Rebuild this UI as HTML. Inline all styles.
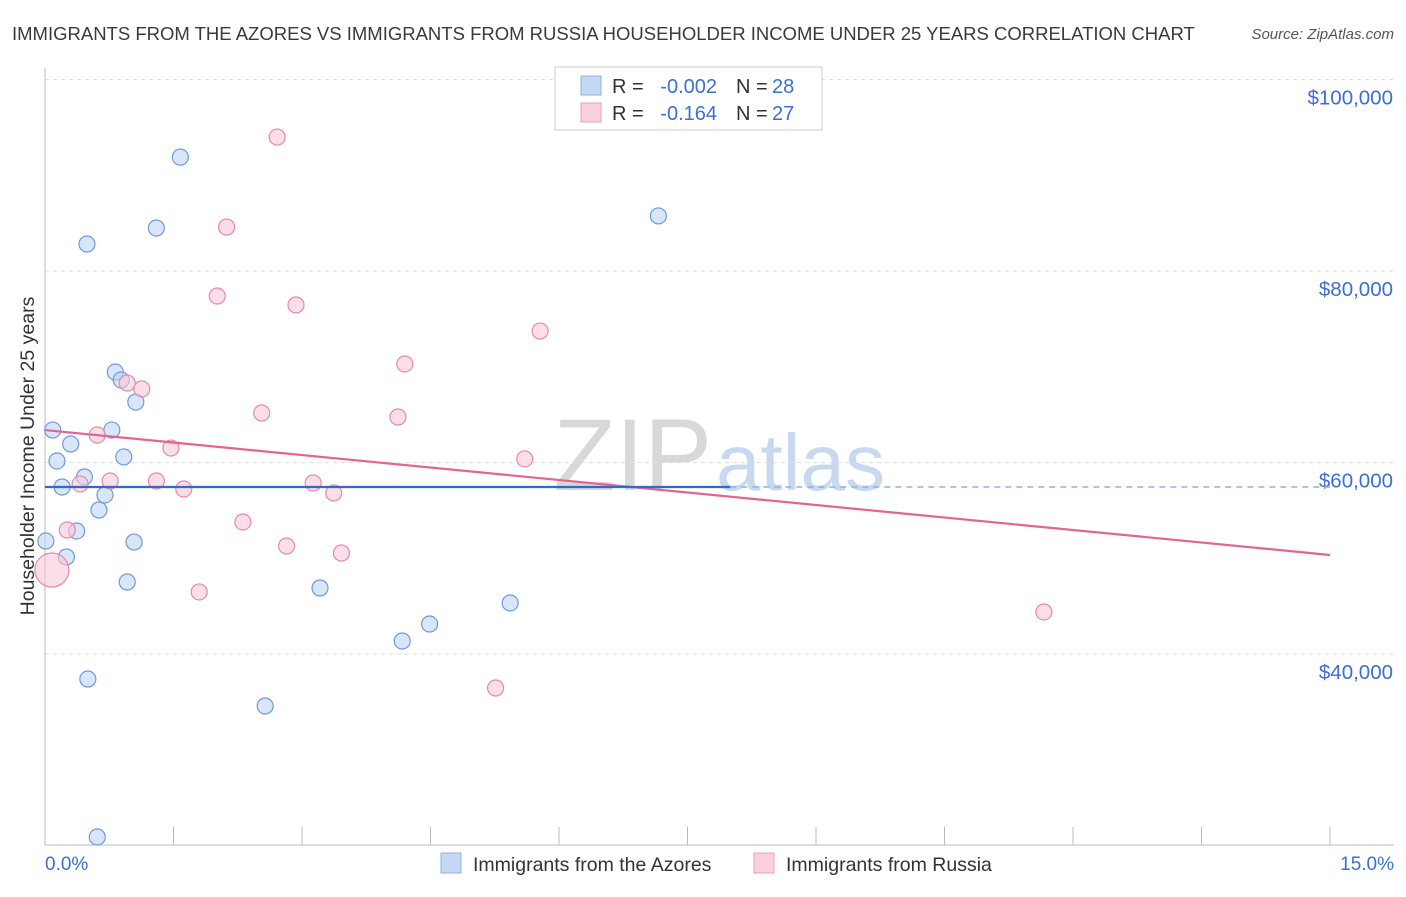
<!DOCTYPE html>
<html><head><meta charset="utf-8"><style>
body{margin:0;background:#fff;font-family:"Liberation Sans",sans-serif;}
svg text{font-family:"Liberation Sans",sans-serif;}
</style></head><body>
<svg id="chart" width="1406" height="892">
<text x="12" y="40" font-size="18.5" fill="#3a3a3a">IMMIGRANTS FROM THE AZORES VS IMMIGRANTS FROM RUSSIA HOUSEHOLDER INCOME UNDER 25 YEARS CORRELATION CHART</text>
<text x="1394" y="39" font-size="15" fill="#555" text-anchor="end" font-style="italic">Source: ZipAtlas.com</text>
<text x="712" y="490" font-size="102" fill="#d8d8d8" text-anchor="end" font-family="Liberation Serif">ZIP</text>
<text x="716" y="490" font-size="80" fill="#c8d8ee">atlas</text>
<g id="grid"></g>
<g id="axes"></g>
<g id="marks"></g>
<text transform="translate(34,456) rotate(-90)" font-size="19.5" fill="#333" text-anchor="middle">Householder Income Under 25 years</text>
<text x="45" y="870" font-size="19" fill="#3b6fd4">0.0%</text>
<text x="1394" y="870" font-size="19" fill="#3b6fd4" text-anchor="end">15.0%</text>
<g><rect x="441" y="853" width="20" height="20" fill="#c5d9f5" stroke="#8fb0e0"/><text x="473" y="871" font-size="19.5" fill="#333">Immigrants from the Azores</text></g>
<g><rect x="754" y="853" width="20" height="20" fill="#f9d0dc" stroke="#e9a0b5"/><text x="786" y="871" font-size="19.5" fill="#333">Immigrants from Russia</text></g>
<g>
<rect x="555" y="67" width="267" height="63" fill="#fff" stroke="#ccc"/>
<rect x="581" y="76" width="20" height="19" fill="#c5d9f5" stroke="#8fb0e0"/>
<rect x="581" y="103" width="20" height="19" fill="#f9d0dc" stroke="#e9a0b5"/>
<text x="612" y="93" font-size="20" fill="#333">R =</text>
<text x="717" y="93" font-size="20" fill="#3b6fd4" text-anchor="end">-0.002</text>
<text x="736" y="93" font-size="20" fill="#333">N =</text>
<text x="772" y="93" font-size="20" fill="#3b6fd4">28</text>
<text x="612" y="120" font-size="20" fill="#333">R =</text>
<text x="717" y="120" font-size="20" fill="#3b6fd4" text-anchor="end">-0.164</text>
<text x="736" y="120" font-size="20" fill="#333">N =</text>
<text x="772" y="120" font-size="20" fill="#3b6fd4">27</text>
</g>
</svg>
<script>
const yTicks=[40000,60000,80000,100000];
const yTickLabels=["$40,000","$60,000","$80,000","$100,000"];
const xTicks=[0,1.5,3,4.5,6,7.5,9,10.5,12,13.5,15];
const azoresX=[1.58,1.30,0.49,7.16,0.82,0.89,1.06,0.09,0.78,0.30,0.92,0.14,0.46,0.20,0.70,0.63,0.37,0.01,1.04,0.25,0.96,3.21,5.43,4.49,4.17,0.50,2.57,0.61];
const azoresY=[91900,84500,82830,85760,69460,68630,66330,63400,63400,61940,60590,60170,58500,57450,56620,55050,52860,51810,51700,50140,47530,46900,45340,43140,41370,37400,34580,20900];
const russiaX=[2.71,2.12,2.01,2.93,5.78,4.20,0.96,1.13,2.53,4.12,0.61,1.47,5.60,0.76,0.41,1.30,1.62,3.13,3.37,2.31,0.26,2.82,3.46,0.08,1.80,11.66,5.26];
const russiaY=[94000,84600,77400,76460,73740,70300,68310,67690,65180,64760,62880,61520,60380,58080,57770,58080,57240,57870,56830,53800,52960,51290,50560,48780,46490,44400,36460];
const azoresTrend=[57450,57450];
const russiaTrend=[63400,50350];
const NS="http://www.w3.org/2000/svg";
const X=v=>45+v/15*1285;
const Y=v=>845.6-(v-20000)/20000*191.5;
function mk(tag,attrs,parent){const e=document.createElementNS(NS,tag);for(const k in attrs)e.setAttribute(k,attrs[k]);parent.appendChild(e);return e;}
const grid=document.getElementById('grid'),axes=document.getElementById('axes'),marks=document.getElementById('marks');
yTicks.forEach((t,i)=>{
 const l=mk('line',{x1:45,x2:1394,y1:Y(t),y2:Y(t),stroke:'#ddd','stroke-dasharray':'4,4'},grid);
 
 
 const tx=mk('text',{x:1393,y:Y(t)+25,'font-size':20.5,fill:'#3b6fd4','text-anchor':'end'},axes);
 tx.textContent=yTickLabels[i];
 
 
});
const ya=mk('line',{x1:45,x2:45,y1:68,y2:845,stroke:'#bbb'},axes);


const xa=mk('line',{x1:45,x2:1394,y1:845,y2:845,stroke:'#bbb'},axes);


xTicks.forEach(t=>{
 const l=mk('line',{x1:X(t),x2:X(t),y1:827,y2:845,stroke:'#bbb'},axes);
 
 
});
azoresX.forEach((x,i)=>{
 const c=mk('circle',{cx:X(x),cy:Y(azoresY[i]),r:8,fill:'rgba(190,213,245,0.6)',stroke:'#6f9ad8','stroke-width':1.2},marks);
 
 
});
russiaX.forEach((x,i)=>{
 const c=mk('circle',{cx:X(x),cy:Y(russiaY[i]),r:(i===23?17:8),fill:'rgba(249,200,215,0.6)',stroke:'#e68aa6','stroke-width':1.2},marks);
 
 
});
const rl=mk('line',{x1:X(0),y1:Y(russiaTrend[0]),x2:X(15),y2:Y(russiaTrend[1]),stroke:'#e4648e','stroke-width':2.2},marks);


const bl=mk('line',{x1:X(0),y1:Y(azoresTrend[0]),x2:X(8),y2:Y(azoresTrend[0]+(azoresTrend[1]-azoresTrend[0])*8/15),stroke:'#2f6ad0','stroke-width':2.2},marks);


const bd=mk('line',{x1:X(8),y1:Y(azoresTrend[0]+(azoresTrend[1]-azoresTrend[0])*8/15),x2:X(15),y2:Y(azoresTrend[1]),stroke:'#8fb0e0','stroke-width':1.5,'stroke-dasharray':'6,5'},marks);


</script>
</body></html>
